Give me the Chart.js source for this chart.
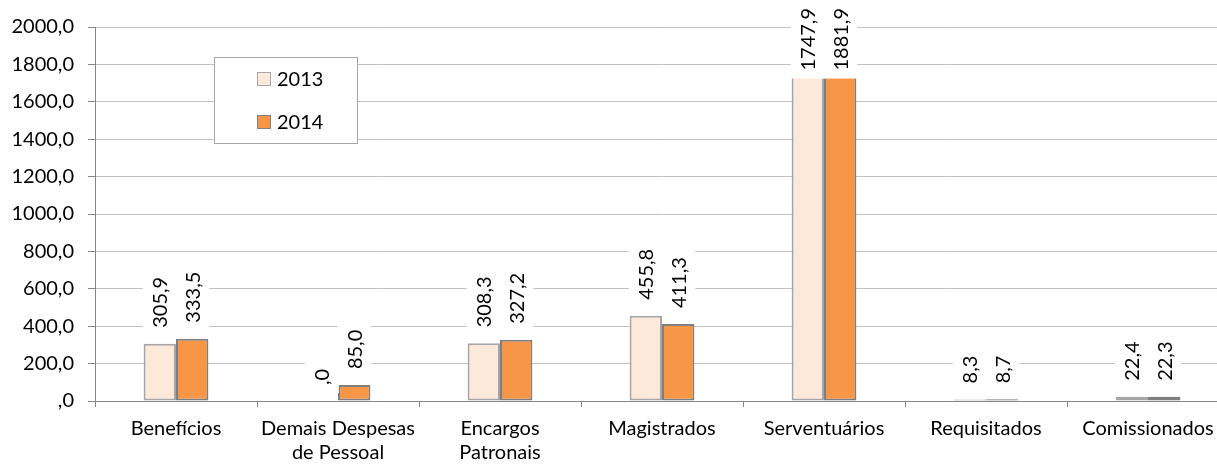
<!DOCTYPE html>
<html>
<head>
<meta charset="utf-8">
<script src="https://cdn.jsdelivr.net/npm/chart.js@4.4.0/dist/chart.umd.min.js"></script>
<style>
    html, body { margin: 0; padding: 0; background: #fff; overflow: hidden; }
    #wrap { width: 1217px; height: 466px; overflow: hidden; }
    #box { width: 1236px; height: 466px; }
</style>
</head>
<body>
<div id="wrap"><div id="box"><canvas id="despesasGraph"></canvas></div></div>
<script>
const categorias = [['Benefícios'], ['Demais Despesas', 'de Pessoal'], ['Encargos', 'Patronais'], ['Magistrados'], ['Serventuários'], ['Requisitados'], ['Comissionados']];
const anos = ['2013', '2014'];
const valores2013 = [305.9, 0, 308.3, 455.8, 1747.9, 8.3, 22.4];
const valores2014 = [333.5, 85.0, 327.2, 411.3, 1881.9, 8.7, 22.3];

function fmt(v) {
    if (v === 0) return ',0';
    return v.toFixed(1).replace('.', ',');
}

// rotated value labels with white background, like the Excel ones
const rotulos = {
    id: 'rotulos',
    afterDatasetsDraw(chart) {
        let ctx = chart.ctx;
        ctx.save();
        ctx.font = '20px Lato';
        chart.data.datasets.forEach(function (ds, i) {
            chart.getDatasetMeta(i).data.forEach(function (bar, j) {
                let txt = fmt(ds.data[j]);
                let w = ctx.measureText(txt).width;
                let start = bar.y - 16;
                if (start - w < 8) start = 8 + w;
                ctx.fillStyle = '#ffffff';
                ctx.fillRect(bar.x - 17, start - w - 8, 34, w + 16);
                ctx.save();
                ctx.translate(bar.x, start);
                ctx.rotate(-Math.PI / 2);
                ctx.fillStyle = '#000000';
                ctx.textAlign = 'left';
                ctx.textBaseline = 'middle';
                ctx.fillText(txt, 0, 1);
                ctx.restore();
            });
        });
        ctx.restore();
    }
};

// legend box inside the plot
const legenda = {
    id: 'legenda',
    afterDraw(chart) {
        let ctx = chart.ctx;
        let left = chart.chartArea.left + 119;
        let top = 57;
        ctx.save();
        ctx.fillStyle = '#ffffff';
        ctx.fillRect(left, top, 143, 86);
        ctx.strokeStyle = '#a6a6a6';
        ctx.lineWidth = 1;
        ctx.strokeRect(left + 0.5, top + 0.5, 143, 86);
        ctx.font = '20px Lato';
        ctx.textBaseline = 'middle';
        chart.data.datasets.forEach(function (ds, i) {
            let cy = top + 22 + i * 43;
            ctx.fillStyle = ds.backgroundColor;
            ctx.fillRect(left + 43, cy - 7, 14, 14);
            ctx.strokeStyle = ds.borderColor;
            ctx.strokeRect(left + 43.5, cy - 6.5, 13, 13);
            ctx.fillStyle = '#000000';
            ctx.fillText(ds.label, left + 63, cy + 1);
        });
        ctx.restore();
    }
};

let ctx = document.getElementById('despesasGraph').getContext('2d');
Chart.defaults.font.family = 'Lato';
Chart.defaults.font.size = 20;
Chart.defaults.color = '#000000';

new Chart(ctx, {
    type: 'bar',
    data: {
        labels: categorias,
        datasets: [{
            label: anos[0],
            data: valores2013,
            backgroundColor: '#fde9d9',
            borderColor: '#a6a6a6',
            borderWidth: 2,
            borderSkipped: false
        }, {
            label: anos[1],
            data: valores2014,
            backgroundColor: '#f79646',
            borderColor: '#7f7f7f',
            borderWidth: 2,
            borderSkipped: false
        }]
    },
    options: {
        responsive: true,
        maintainAspectRatio: false,
        animation: false,
        layout: { padding: { top: 27, right: 7, left: 0, bottom: 0 } },
        datasets: {
            bar: { categoryPercentage: 0.4, barPercentage: 1.0 }
        },
        plugins: {
            legend: { display: false },
            tooltip: { enabled: false }
        },
        scales: {
            x: {
                grid: {
                    drawOnChartArea: false,
                    offset: true,
                    tickLength: 6,
                    tickColor: '#868686'
                },
                border: { color: '#868686' },
                ticks: { padding: 10, maxRotation: 0, autoSkip: false },
                afterFit: function (scale) { scale.height = 65; }
            },
            y: {
                min: 0,
                max: 2000,
                grid: {
                    color: '#c0c0c0',
                    tickLength: 7,
                    tickColor: '#868686'
                },
                border: { color: '#868686' },
                ticks: {
                    stepSize: 200,
                    padding: 14,
                    callback: function (v) { return fmt(v); }
                },
                afterFit: function (scale) { scale.width = 95; }
            }
        }
    },
    plugins: [rotulos, legenda]
});
</script>
</body>
</html>
